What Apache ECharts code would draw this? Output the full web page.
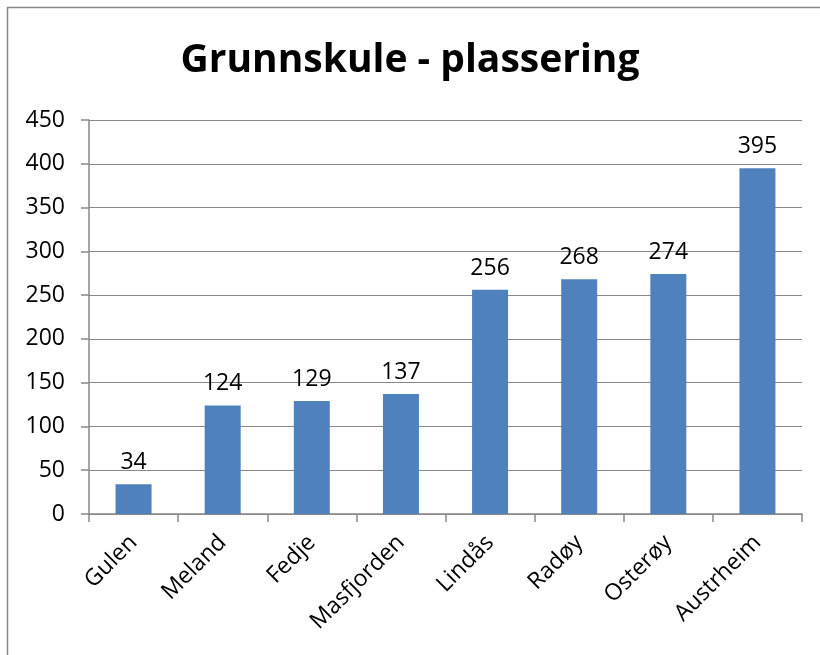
<!DOCTYPE html>
<html lang="en">
<head>
    <meta charset="UTF-8">
    <title>Grunnskule - plassering</title>
    <script src="https://cdn.jsdelivr.net/npm/echarts@6/dist/echarts.min.js"></script>
    <style>
        body { margin: 0; }
        #container { width: 820px; height: 655px; }
    </style>
</head>
<body>
    <div id="container"></div>
<script>
    var categories = ['Gulen', 'Meland', 'Fedje', 'Masfjorden', 'Lindås', 'Radøy', 'Osterøy', 'Austrheim'];
    var values = [34, 124, 129, 137, 256, 268, 274, 395];

    var font = '"Open Sans", "Noto Sans", sans-serif';
    var myChart = echarts.init(document.getElementById('container'));

    myChart.setOption({
        animation: false,
        backgroundColor: '#fff',
        title: {
            text: 'Grunnskule - plassering',
            left: 'center',
            top: 36,
            textStyle: { fontFamily: font, fontSize: 39, fontWeight: 'bold', color: '#000' }
        },
        graphic: [{
            type: 'rect',
            shape: { x: 7.5, y: 7.5, width: 840, height: 680 },
            style: { fill: 'none', stroke: '#888', lineWidth: 1.5 },
            silent: true
        }],
        grid: { left: 89, right: 18, top: 120, bottom: 141 },
        xAxis: {
            type: 'category',
            data: categories,
            axisLine: { lineStyle: { color: '#888', width: 1.5 } },
            axisTick: { show: true, length: 8, lineStyle: { color: '#888', width: 1.5 } },
            axisLabel: {
                rotate: 45,
                interval: 0,
                margin: 25,
                color: '#000',
                fontFamily: font,
                fontSize: 23
            }
        },
        yAxis: {
            type: 'value',
            min: 0,
            max: 450,
            interval: 50,
            axisLine: { show: true, lineStyle: { color: '#888', width: 1.5 } },
            axisTick: { show: true, length: 8, lineStyle: { color: '#888', width: 1.5 } },
            splitLine: { lineStyle: { color: '#888', width: 1.2 } },
            axisLabel: { color: '#000', fontFamily: font, fontSize: 23, margin: 24 }
        },
        series: [{
            type: 'bar',
            data: values,
            barWidth: 36,
            itemStyle: { color: '#4F81BD' },
            label: {
                show: true,
                position: 'top',
                distance: 10,
                color: '#000',
                fontFamily: font,
                fontSize: 23
            }
        }]
    });
</script>
</body>
</html>
